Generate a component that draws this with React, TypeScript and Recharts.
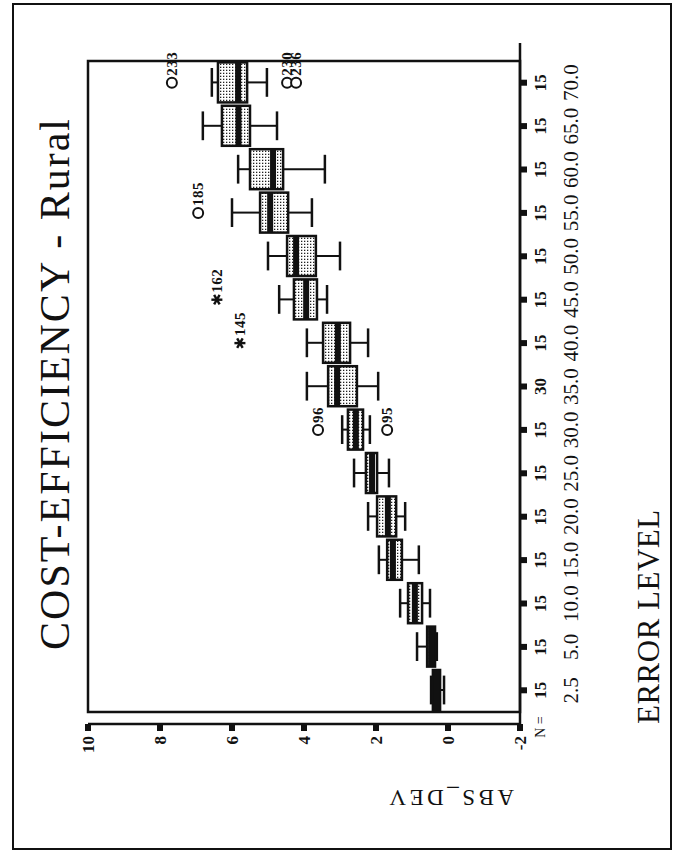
import React from "react";
import { ComposedChart, Bar, Scatter, XAxis, YAxis, ReferenceArea } from "recharts";

// Boxplot of ABS_DEV per error level (scanned SPSS chart, printed rotated a quarter turn)
const categories = ["2.5", "5.0", "10.0", "15.0", "20.0", "25.0", "30.0", "35.0", "40.0", "45.0", "50.0", "55.0", "60.0", "65.0", "70.0"];
const nCounts = [15, 15, 15, 15, 15, 15, 15, 30, 15, 15, 15, 15, 15, 15, 15];
const whiskerLow = [0.11, 0.31, 0.5, 0.81, 1.19, 1.64, 2.17, 1.94, 2.22, 3.36, 3.0, 3.78, 3.42, 4.75, 5.03];
const quartile1 = [0.22, 0.36, 0.72, 1.28, 1.44, 1.97, 2.36, 2.53, 2.72, 3.64, 3.67, 4.44, 4.58, 5.5, 5.58];
const medians = [0.31, 0.47, 0.92, 1.53, 1.67, 2.11, 2.56, 3.08, 3.06, 3.94, 4.22, 4.94, 4.86, 5.82, 5.83];
const quartile3 = [0.42, 0.58, 1.11, 1.69, 1.97, 2.28, 2.78, 3.33, 3.47, 4.28, 4.47, 5.22, 5.5, 6.28, 6.39];
const whiskerHigh = [0.47, 0.86, 1.33, 1.92, 2.22, 2.61, 2.94, 3.92, 3.92, 4.69, 5.0, 6.0, 5.83, 6.81, 6.56];

// outliers (O) and extremes (*), labelled with case numbers
const outlierCats = ["30.0", "30.0", "55.0", "70.0", "70.0", "70.0"];
const outlierValues = [3.61, 1.69, 6.94, 7.67, 4.47, 4.22];
const outlierIds = ["96", "95", "185", "233", "230", "236"];

const extremeCats = ["40.0", "45.0"];
const extremeValues = [5.78, 6.42];
const extremeIds = ["145", "162"];

const valueTicks = [-2, 0, 2, 4, 6, 8, 10];

const INK = "#111";
const SERIF = '"Liberation Serif", "DejaVu Serif", serif';

const rows = categories.map((cat, i) => ({
  cat,
  range: [whiskerLow[i], whiskerHigh[i]],
  lo: whiskerLow[i],
  q1: quartile1[i],
  med: medians[i],
  q3: quartile3[i],
  hi: whiskerHigh[i],
}));

const outliers = outlierCats.map((cat, i) => ({ cat, v: outlierValues[i], id: outlierIds[i] }));
const extremes = extremeCats.map((cat, i) => ({ cat, v: extremeValues[i], id: extremeIds[i] }));

function BoxShape(props: any) {
  const { x, y, width, height, payload } = props;
  if (x == null || !payload) return null;
  const top = Math.min(y, y + height);
  const bottom = Math.max(y, y + height);
  const span = payload.hi - payload.lo || 1;
  // map a value into pixels using the bar's own whisker-to-whisker extent
  const py = (v: number) => top + ((payload.hi - v) / span) * (bottom - top);
  const cx = x + width / 2;
  const cap = width * 0.36;
  const y3 = py(payload.q3);
  const y1 = py(payload.q1);
  const ym = py(payload.med);
  return (
    <g>
      <line x1={cx} x2={cx} y1={top} y2={y3} stroke={INK} strokeWidth={2} />
      <line x1={cx} x2={cx} y1={y1} y2={bottom} stroke={INK} strokeWidth={2} />
      <line x1={cx - cap} x2={cx + cap} y1={top} y2={top} stroke={INK} strokeWidth={2.5} />
      <line x1={cx - cap} x2={cx + cap} y1={bottom} y2={bottom} stroke={INK} strokeWidth={2.5} />
      <rect x={x} y={y3} width={width} height={Math.max(y1 - y3, 1)} fill="url(#stipple)" stroke={INK} strokeWidth={2.5} />
      <line x1={x} x2={x + width} y1={ym} y2={ym} stroke={INK} strokeWidth={6} />
    </g>
  );
}

function OutlierShape(props: any) {
  const { cx, cy, payload } = props;
  if (cx == null || cy == null) return null;
  return (
    <g>
      <circle cx={cx} cy={cy} r={5} fill="#fff" stroke={INK} strokeWidth={2} />
      <text x={cx + 7} y={cy + 5} fontSize={15} letterSpacing={0.5} fontWeight={600} fontFamily={SERIF} fill={INK}>
        {payload.id}
      </text>
    </g>
  );
}

function ExtremeShape(props: any) {
  const { cx, cy, payload } = props;
  if (cx == null || cy == null) return null;
  const r = 5.5;
  const arms = [90, 30, 150].map((a) => {
    const rad = (a * Math.PI) / 180;
    return { dx: Math.cos(rad) * r, dy: Math.sin(rad) * r };
  });
  return (
    <g>
      {arms.map((d, i) => (
        <line key={i} x1={cx - d.dx} y1={cy - d.dy} x2={cx + d.dx} y2={cy + d.dy} stroke={INK} strokeWidth={2.4} />
      ))}
      <text x={cx + 7} y={cy + 5} fontSize={15} letterSpacing={0.5} fontWeight={600} fontFamily={SERIF} fill={INK}>
        {payload.id}
      </text>
    </g>
  );
}

function CategoryTick(props: any) {
  const { x, y, payload } = props;
  const i = categories.indexOf(String(payload.value));
  return (
    <g>
      <rect x={x - 3} y={y} width={6} height={7} fill={INK} />
      <text x={x} y={y + 26} textAnchor="middle" fontSize={17} fontWeight={600} fontFamily={SERIF} fill={INK}>
        {nCounts[i]}
      </text>
      <text x={x} y={y + 58} textAnchor="middle" fontSize={21} fontFamily={SERIF} fill={INK}>
        {payload.value}
      </text>
    </g>
  );
}

function ValueTick(props: any) {
  const { x, y, payload } = props;
  return (
    <g>
      <rect x={x - 7} y={y - 3} width={7} height={6} fill={INK} />
      <text x={x - 12} y={y + 6} textAnchor="end" fontSize={17} fontWeight={600} fontFamily={SERIF} fill={INK}>
        {payload.value}
      </text>
    </g>
  );
}

function XTitle(props: any) {
  const vb = props.viewBox || {};
  const x = vb.x ?? 0;
  const y = vb.y ?? 0;
  return (
    <g>
      <text x={x - 3} y={y + 25} textAnchor="middle" fontSize={14} fontFamily={SERIF} fill={INK}>
        N =
      </text>
      <text x={x} y={y + 139} fontSize={31} letterSpacing={0.5} fontFamily={SERIF} fill={INK}>
        ERROR LEVEL
      </text>
    </g>
  );
}

function YTitle(props: any) {
  const vb = props.viewBox || {};
  const bx = (vb.x ?? 0) - 26;
  const by = (vb.y ?? 0) + (vb.height ?? 0) - 6;
  return (
    <text x={bx} y={by} transform={`rotate(-90 ${bx} ${by})`} fontSize={23} letterSpacing={3.5} fontFamily={SERIF} fill={INK}>
      ABS_DEV
    </text>
  );
}

export default function App() {
  return (
    <div style={{ position: "absolute", left: 0, top: 0, width: 677, height: 858, background: "#fff", overflow: "hidden" }}>
      <svg width={0} height={0} style={{ position: "absolute" }}>
        <defs>
          <pattern id="stipple" width={3} height={3} patternUnits="userSpaceOnUse">
            <rect width={3} height={3} fill="#fff" />
            <rect x={1} y={1} width={1.3} height={1.3} fill="#222" />
          </pattern>
        </defs>
      </svg>
      {/* page printed landscape, turned a quarter turn counter-clockwise */}
      <div
        style={{
          position: "absolute",
          left: 0,
          top: 0,
          width: 858,
          height: 677,
          transformOrigin: "0 0",
          transform: "translate(0px, 858px) rotate(-90deg)",
        }}
      >
        <div
          style={{
            position: "absolute",
            left: 8,
            top: 12,
            width: 843,
            height: 656,
            border: `2px solid ${INK}`,
          }}
        />
        <div
          style={{
            position: "absolute",
            left: 134,
            top: 34,
            width: 681,
            textAlign: "center",
            fontFamily: SERIF,
            fontSize: 42,
            lineHeight: "42px",
            letterSpacing: 2,
            color: INK,
            whiteSpace: "nowrap",
          }}
        >
          COST-EFFICIENCY - Rural
        </div>
        <div style={{ position: "absolute", left: 0, top: 0 }}>
          <ComposedChart width={858} height={677} data={rows} margin={{ top: 88, right: 43, bottom: 97, left: 94 }}>
            <XAxis
              dataKey="cat"
              type="category"
              allowDuplicatedCategory={false}
              padding={{ left: 12, right: 18 }}
              height={60}
              interval={0}
              tickSize={0}
              tickMargin={0}
              tickLine={false}
              axisLine={{ stroke: INK, strokeWidth: 2.5 }}
              tick={(p: any) => <CategoryTick {...p} />}
              label={(p: any) => <XTitle {...p} />}
            />
            <YAxis
              type="number"
              domain={[-2, 10]}
              ticks={valueTicks}
              width={40}
              tickSize={0}
              tickMargin={0}
              tickLine={false}
              axisLine={{ stroke: INK, strokeWidth: 2.5 }}
              tick={(p: any) => <ValueTick {...p} />}
              label={(p: any) => <YTitle {...p} />}
            />
            <ReferenceArea y1={-2} y2={10} fill="none" stroke={INK} strokeWidth={2.5} ifOverflow="visible" />
            <Bar dataKey="range" barSize={40} shape={(p: any) => <BoxShape {...p} />} isAnimationActive={false} />
            <Scatter data={outliers} dataKey="v" shape={(p: any) => <OutlierShape {...p} />} isAnimationActive={false} />
            <Scatter data={extremes} dataKey="v" shape={(p: any) => <ExtremeShape {...p} />} isAnimationActive={false} />
          </ComposedChart>
        </div>
      </div>
    </div>
  );
}
